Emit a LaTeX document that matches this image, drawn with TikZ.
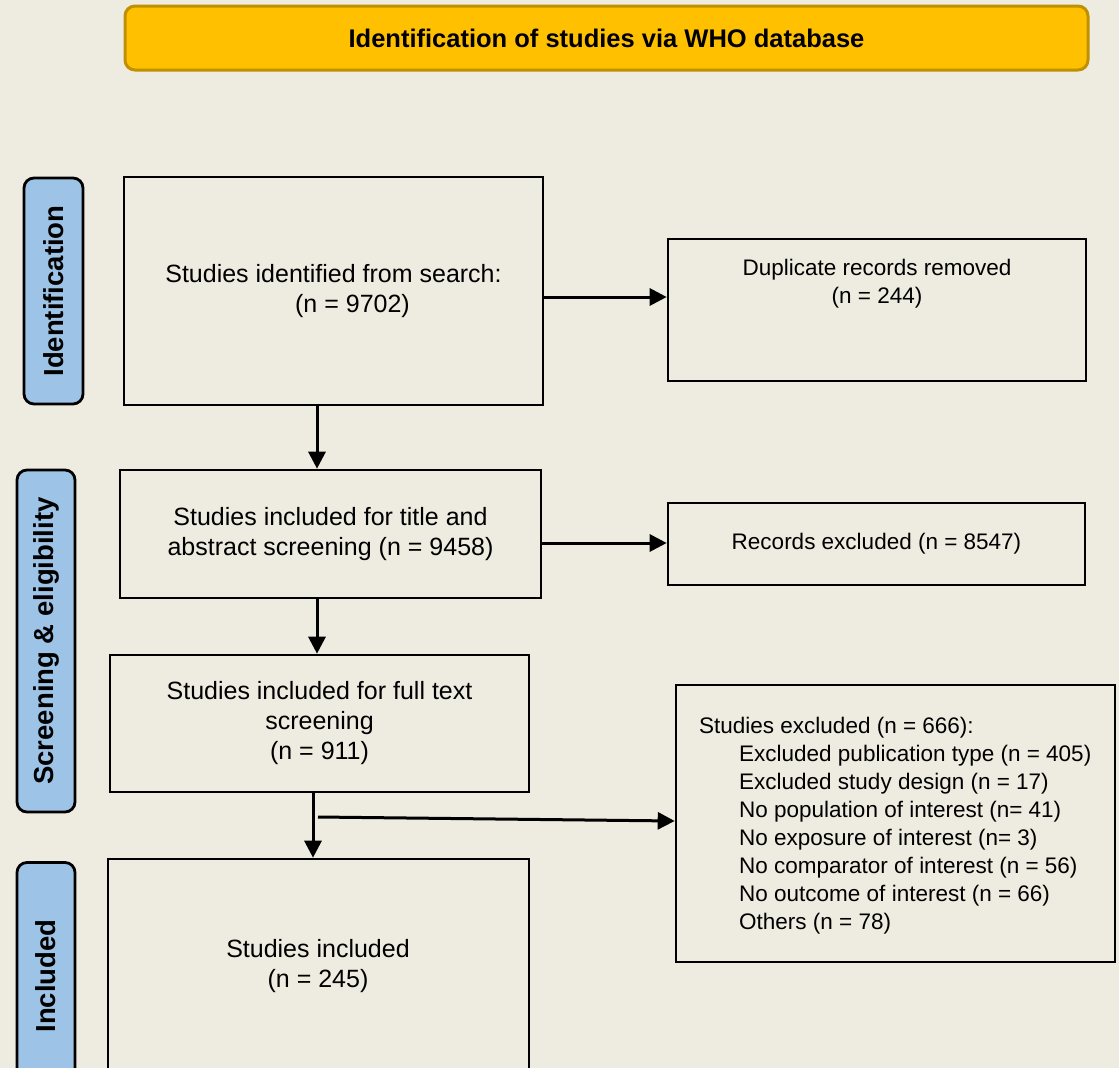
\documentclass[tikz,border=0pt]{standalone}
\usepackage{fontspec}
\setmainfont{Liberation Sans}
\usetikzlibrary{arrows.meta}
\definecolor{bg}{HTML}{EEEBE0}
\definecolor{gold}{HTML}{FFC000}
\definecolor{golddark}{HTML}{BF9000}
\definecolor{phase}{HTML}{9DC3E6}
\begin{document}
\begin{tikzpicture}[x=1pt,y=-1pt,
  box/.style={draw, line width=2.6pt, rectangle, inner sep=0pt},
  main/.style={font=\fontsize{25}{30}\selectfont, align=center, inner sep=0pt},
  side/.style={font=\fontsize{22.5}{28}\selectfont, align=center, inner sep=0pt},
  phasebox/.style={draw, line width=2.8pt, fill=phase, rounded corners=10pt, rotate=90,
    font=\bfseries\fontsize{27.5}{32}\selectfont, inner sep=0pt},
  arr/.style={line width=3pt, -{Triangle[length=17pt,width=17pt]}}]
\useasboundingbox (0,0) rectangle (1119,1068);
\clip (0,0) rectangle (1119,1068);
\fill[bg] (0,0) rectangle (1119,1068);

% banner
\node[draw=golddark, fill=gold, line width=3pt, rounded corners=10pt,
  minimum width=963pt, minimum height=64pt, inner sep=0pt,
  font=\bfseries\fontsize{25.5}{30}\selectfont] (ban) at (606.5,38)
  {Identification of studies via WHO database};

% phase labels
\node[phasebox, minimum width=226pt, minimum height=59pt] (p1) at (53.5,291) {Identification};
\node[phasebox, minimum width=342pt, minimum height=58pt] (p2) at (46,641) {Screening \& eligibility};
\node[phasebox, minimum width=227pt, minimum height=58pt] (p3) at (46,976) {Included};

% main column
\node[box, main, minimum width=419pt, minimum height=228pt] (b1) at (333.5,291)
  {Studies identified from search:\\\hspace*{38pt}(n = 9702)};
\node[box, main, minimum width=421pt, minimum height=128pt] (b2) at (330.5,534)
  {Studies included for title and\\abstract screening (n = 9458)};
\node[box, main, minimum width=419pt, minimum height=137pt] (b3) at (319.5,723.5)
  {Studies included for full text\\screening\\(n = 911)};
\node[box, minimum width=421pt, minimum height=231pt] (b4) at (318.5,974.5) {};
\node[main] (b4txt) at (318,966) {Studies included\\(n = 245)};

% right column
\node[box, minimum width=418pt, minimum height=142pt] (dup) at (877,310) {};
\node[side, anchor=north] (duptxt) at (877,259) {Duplicate records removed\\(n = 244)};
\node[box, side, minimum width=417pt, minimum height=82pt] (rec) at (876.5,544)
  {Records excluded (n = 8547)};
\node[box, minimum width=439pt, minimum height=277pt] (exc) at (895.5,823.5) {};
\node[font=\fontsize{22.5}{28}\selectfont, align=left, inner sep=0pt, anchor=north west] (exctxt) at (699,717)
  {Studies excluded (n = 666):\\
   \hspace*{40pt}Excluded publication type (n = 405)\\
   \hspace*{40pt}Excluded study design (n = 17)\\
   \hspace*{40pt}No population of interest (n= 41)\\
   \hspace*{40pt}No exposure of interest (n= 3)\\
   \hspace*{40pt}No comparator of interest (n = 56)\\
   \hspace*{40pt}No outcome of interest (n = 66)\\
   \hspace*{40pt}Others (n = 78)};

% connectors
\coordinate (ya) at (0,297);
\coordinate (yb) at (0,543);
\coordinate (yc) at (0,821);
\coordinate (xa) at (317,0);
\coordinate (xb) at (313,0);
\coordinate (st) at (318,817);
\draw[arr] (b1.east |- ya) -- (dup.west |- ya);
\draw[arr] (b1.south -| xa) -- (b2.north -| xa);
\draw[arr] (b2.east |- yb) -- (rec.west |- yb);
\draw[arr] (b2.south -| xa) -- (b3.north -| xa);
\draw[arr] (b3.south -| xb) -- (b4.north -| xb);
\draw[arr] (st) -- (exc.west |- yc);
\end{tikzpicture}
\end{document}
